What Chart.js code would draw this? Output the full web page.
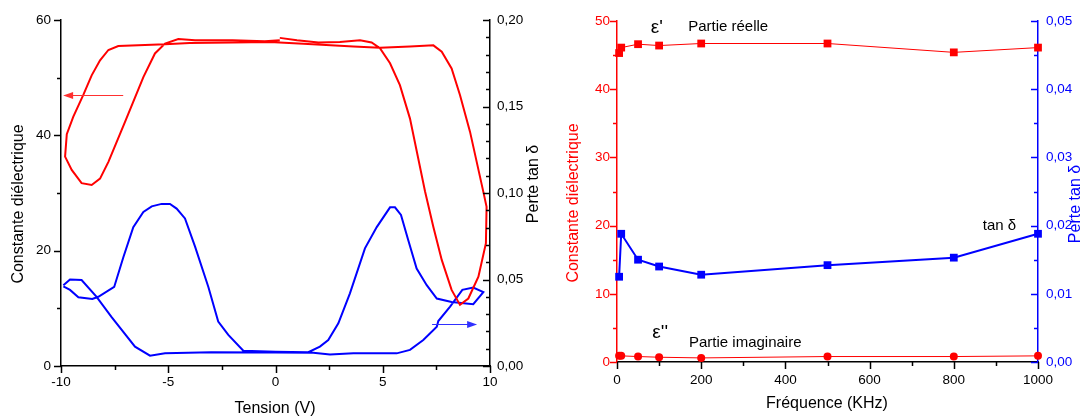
<!DOCTYPE html>
<html>
<head>
<meta charset="utf-8">
<script src="https://cdn.jsdelivr.net/npm/chart.js@4.4.1/dist/chart.umd.min.js"></script>
<style>
    html, body { margin: 0; padding: 0; background: #fff; }
    body { width: 1083px; height: 416px; position: relative; overflow: hidden; }
    canvas { position: absolute; top: 0; }
    #hystChart { left: 0; }
    #freqChart { left: 550px; }
</style>
</head>
<body>
<canvas id="hystChart" width="550" height="416"></canvas>
<canvas id="freqChart" width="533" height="416"></canvas>
<script>
// ---- courbe C(V) : constante diélectrique (axe gauche)
const cvTension = [0.2, 1.0, 2.0, 3.0, 3.94, 4.48, 4.87, 5.34, 5.80, 6.27, 6.97, 7.36, 7.75, 8.21, 8.6, 8.99, 9.46, 9.81, 9.84, 9.69,
    9.07, 8.6, 8.21, 7.75, 7.36, 6.27, 4.87, 3.63, 1.3, -0.26, -2.0, -4.0, -5.15, -7.33, -7.79, -8.18, -8.57, -8.96, -9.43, -9.73,
    -9.81, -9.5, -9.04, -8.57, -8.18, -7.79, -7.02, -6.16, -5.62, -5.15, -4.53, -3.75, -2.0, -0.5, 0.2];
const cvConstante = [56.9, 56.5, 56.1, 56.2, 56.5, 56.1, 55.1, 52.5, 48.7, 42.9, 30.3, 24.1, 18.4, 13.2, 10.6, 11.7, 15.5, 21.3, 27.6, 30.2,
    40.6, 47.0, 51.6, 54.5, 55.6, 55.4, 55.2, 55.4, 55.9, 56.2, 56.1, 56.0, 55.8, 55.5, 54.8, 53.0, 50.4, 47.0, 43.2, 40.2,
    36.3, 34.0, 31.7, 31.4, 32.5, 35.4, 42.3, 50.1, 54.2, 55.9, 56.7, 56.5, 56.5, 56.3, 56.5];

// ---- courbe tan δ(V) (axe droit)
const tdTension = [-9.89, -9.58, -9.19, -8.54, -8.26, -7.52, -7.09, -6.63, -6.16, -5.77, -5.31, -4.92, -4.61, -4.22, -3.75, -3.13, -2.67, -2.2, -1.5, 0.0,
    1.53, 2.07, 2.46, 2.93, 3.47, 4.17, 4.72, 5.34, 5.57, 5.85, 6.19, 6.58, 7.05, 7.52, 8.21, 9.22, 9.69, 9.22, 8.71, 8.14,
    7.59, 7.52, 6.89, 6.27, 5.65, 3.63, 2.54, 1.76, 0.0, -3.0, -5.15, -5.85, -6.55, -7.64, -8.34, -9.04, -9.58, -9.89];
const tdPerte = [0.046, 0.044, 0.0397, 0.0387, 0.040, 0.0457, 0.063, 0.0803, 0.089, 0.0923, 0.0937, 0.0937, 0.091, 0.0853, 0.069, 0.0457, 0.0257, 0.018, 0.0088, 0.0082,
    0.008, 0.0112, 0.015, 0.0247, 0.042, 0.068, 0.0803, 0.0917, 0.0917, 0.0873, 0.0727, 0.0563, 0.0467, 0.039, 0.037, 0.0357, 0.0427, 0.0453, 0.044, 0.0343,
    0.026, 0.0227, 0.015, 0.0093, 0.0073, 0.0073, 0.0067, 0.0077, 0.0078, 0.0079, 0.0073, 0.006, 0.0112, 0.0283, 0.040, 0.0497, 0.050, 0.0467];

// flèches (tension début, tension fin, valeur)
const flecheRouge = [-7.1, -9.9, 47.0];
const flecheBleue = [7.3, 9.4, 0.0243];

// ---- graphe en fréquence
const frequences = [5, 10, 50, 100, 200, 500, 800, 1000];
const partieReelle = [45.3, 46.1, 46.6, 46.4, 46.7, 46.7, 45.4, 46.1];
const partieImaginaire = [0.9, 0.9, 0.8, 0.7, 0.6, 0.8, 0.8, 0.9];
const tanDelta = [0.0125, 0.0188, 0.0150, 0.0140, 0.0128, 0.0142, 0.0153, 0.0188];

const virgule = v => v.toFixed(2).replace('.', ',');
const police = 'Liberation Sans, Arial, sans-serif';

function pts(xs, ys) {
    return xs.map((x, i) => ({ x: x, y: ys[i] }));
}

// petits traits d'axes, titres, textes et flèches
function decor(spec) {
    return {
        id: 'decor',
        afterDraw(chart) {
            const ctx = chart.ctx;
            const a = chart.chartArea;
            ctx.save();
            spec.ticks.forEach(t => {
                const sc = chart.scales[t.axis];
                ctx.strokeStyle = t.color;
                ctx.lineWidth = 1.5;
                const n = Math.round((sc.max - sc.min) / t.minor);
                for (let i = 0; i <= n; i++) {
                    const v = sc.min + i * t.minor;
                    const r = v / t.major;
                    const len = Math.abs(r - Math.round(r)) < 1e-6 ? 7 : 4;
                    const p = Math.round(sc.getPixelForValue(v)) + 0.5;
                    ctx.beginPath();
                    if (sc.isHorizontal()) {
                        ctx.moveTo(p, a.bottom);
                        ctx.lineTo(p, a.bottom + len);
                    } else {
                        const x0 = t.axis === 'y' ? a.left : a.right;
                        ctx.moveTo(x0 - len, p);
                        ctx.lineTo(x0, p);
                    }
                    ctx.stroke();
                }
            });
            ctx.textBaseline = 'middle';
            (spec.titles || []).forEach(t => {
                ctx.save();
                ctx.translate(t.x, t.y);
                ctx.rotate(t.rot || 0);
                ctx.font = '16px ' + police;
                ctx.fillStyle = t.color;
                ctx.textAlign = 'center';
                ctx.fillText(t.text, 0, 0);
                ctx.restore();
            });
            (spec.notes || []).forEach(n => {
                ctx.font = (n.size || 15) + 'px ' + police;
                ctx.fillStyle = '#000';
                ctx.textAlign = 'left';
                ctx.fillText(n.text, chart.scales.x.getPixelForValue(n.x), chart.scales[n.axis].getPixelForValue(n.y));
            });
            (spec.arrows || []).forEach(f => {
                const sy = chart.scales[f.axis];
                const x1 = chart.scales.x.getPixelForValue(f.d[0]);
                const x2 = chart.scales.x.getPixelForValue(f.d[1]);
                const y = Math.round(sy.getPixelForValue(f.d[2])) + 0.5;
                const dir = x2 > x1 ? 1 : -1;
                ctx.strokeStyle = f.color;
                ctx.fillStyle = f.color;
                ctx.lineWidth = 1;
                ctx.beginPath();
                ctx.moveTo(x1, y);
                ctx.lineTo(x2 - dir * 8, y);
                ctx.stroke();
                ctx.beginPath();
                ctx.moveTo(x2, y);
                ctx.lineTo(x2 - dir * 10, y - 3.5);
                ctx.lineTo(x2 - dir * 10, y + 3.5);
                ctx.closePath();
                ctx.fill();
            });
            ctx.restore();
        }
    };
}

function axe(color, extra) {
    return Object.assign({
        type: 'linear',
        grid: { display: false, drawTicks: false },
        border: { display: true, color: color, width: 1.5 },
        ticks: { color: color, font: { family: police, size: 13.5 } }
    }, extra);
}

// ---- graphe de gauche : hystérésis
new Chart(document.getElementById('hystChart'), {
    type: 'scatter',
    data: {
        datasets: [{
            data: pts(cvTension, cvConstante),
            yAxisID: 'y',
            showLine: true,
            borderColor: '#ff0000',
            borderWidth: 2,
            pointRadius: 0,
            tension: 0
        }, {
            data: pts(tdTension, tdPerte),
            yAxisID: 'y2',
            showLine: true,
            borderColor: '#0000ff',
            borderWidth: 2,
            pointRadius: 0,
            tension: 0
        }]
    },
    options: {
        responsive: false,
        animation: false,
        devicePixelRatio: 1,
        layout: { padding: { top: 20, left: 0, right: 0, bottom: 0 } },
        plugins: { legend: { display: false }, tooltip: { enabled: false } },
        scales: {
            x: axe('#000', {
                min: -10, max: 10,
                afterFit: s => { s.height = 50; },
                ticks: { color: '#000', font: { family: police, size: 13.5 }, stepSize: 5, padding: 8, maxRotation: 0, callback: v => String(v) }
            }),
            y: axe('#000', {
                position: 'left', min: 0, max: 60,
                afterFit: s => { s.width = 61; },
                ticks: { color: '#000', font: { family: police, size: 13.5 }, stepSize: 20, padding: 10, callback: v => String(v) }
            }),
            y2: axe('#000', {
                position: 'right', min: 0, max: 0.2,
                afterFit: s => { s.width = 60; },
                ticks: { color: '#000', font: { family: police, size: 13.5 }, stepSize: 0.05, padding: 7, callback: v => virgule(v) }
            })
        }
    },
    plugins: [decor({
        ticks: [
            { axis: 'x', major: 5, minor: 2.5, color: '#000' },
            { axis: 'y', major: 20, minor: 10, color: '#000' },
            { axis: 'y2', major: 0.05, minor: 0.01, color: '#000' }
        ],
        titles: [
            { text: 'Constante diélectrique', x: 18.5, y: 204, rot: -Math.PI / 2, color: '#000' },
            { text: 'Perte tan δ', x: 533.5, y: 184, rot: -Math.PI / 2, color: '#000' },
            { text: 'Tension (V)', x: 275, y: 409, color: '#000' }
        ],
        arrows: [
            { d: flecheRouge, axis: 'y', color: '#ff3030' },
            { d: flecheBleue, axis: 'y2', color: '#3030ff' }
        ]
    })]
});

// ---- graphe de droite : fréquence
new Chart(document.getElementById('freqChart'), {
    type: 'scatter',
    data: {
        datasets: [{
            data: pts(frequences, tanDelta),
            yAxisID: 'y2',
            showLine: true,
            borderColor: '#0000ff',
            backgroundColor: '#0000ff',
            borderWidth: 2,
            pointStyle: 'rect',
            pointRadius: 5.5,
            pointBorderWidth: 0,
            tension: 0
        }, {
            data: pts(frequences, partieReelle),
            yAxisID: 'y',
            showLine: true,
            borderColor: '#ff0000',
            backgroundColor: '#ff0000',
            borderWidth: 1,
            pointStyle: 'rect',
            pointRadius: 5.5,
            pointBorderWidth: 0,
            tension: 0
        }, {
            data: pts(frequences, partieImaginaire),
            yAxisID: 'y',
            showLine: true,
            borderColor: '#ff0000',
            backgroundColor: '#ff0000',
            borderWidth: 1,
            pointStyle: 'circle',
            pointRadius: 4,
            pointBorderWidth: 0,
            tension: 0
        }]
    },
    options: {
        responsive: false,
        animation: false,
        devicePixelRatio: 1,
        clip: false,
        layout: { padding: { top: 21, left: 0, right: 0, bottom: 0 } },
        plugins: { legend: { display: false }, tooltip: { enabled: false } },
        scales: {
            x: axe('#000', {
                min: 0, max: 1000,
                afterFit: s => { s.height = 54; },
                ticks: { color: '#000', font: { family: police, size: 13.5 }, stepSize: 200, padding: 10, maxRotation: 0, callback: v => String(v) }
            }),
            y: axe('#ff0000', {
                position: 'left', min: 0, max: 50,
                afterFit: s => { s.width = 67; },
                ticks: { color: '#ff0000', font: { family: police, size: 13.5 }, stepSize: 10, padding: 7, callback: v => String(v) }
            }),
            y2: axe('#0000ff', {
                position: 'right', min: 0, max: 0.05,
                afterFit: s => { s.width = 45; },
                ticks: { color: '#0000ff', font: { family: police, size: 13.5 }, stepSize: 0.01, padding: 8, callback: v => virgule(v) }
            })
        }
    },
    plugins: [decor({
        ticks: [
            { axis: 'x', major: 200, minor: 100, color: '#000' },
            { axis: 'y', major: 10, minor: 5, color: '#ff0000' },
            { axis: 'y2', major: 0.01, minor: 0.005, color: '#0000ff' }
        ],
        titles: [
            { text: 'Constante diélectrique', x: 24, y: 203, rot: -Math.PI / 2, color: '#ff0000' },
            { text: 'Perte tan δ', x: 526, y: 204, rot: -Math.PI / 2, color: '#0000ff' },
            { text: 'Fréquence (KHz)', x: 277, y: 404, color: '#000' }
        ],
        notes: [
            { text: "ε'", x: 80, y: 49.0, axis: 'y', size: 19 },
            { text: 'Partie réelle', x: 169, y: 49.1, axis: 'y' },
            { text: "ε''", x: 84, y: 4.25, axis: 'y', size: 19 },
            { text: 'Partie imaginaire', x: 171, y: 2.86, axis: 'y' },
            { text: 'tan δ', x: 869, y: 0.0199, axis: 'y2' }
        ]
    })]
});
</script>
</body>
</html>
